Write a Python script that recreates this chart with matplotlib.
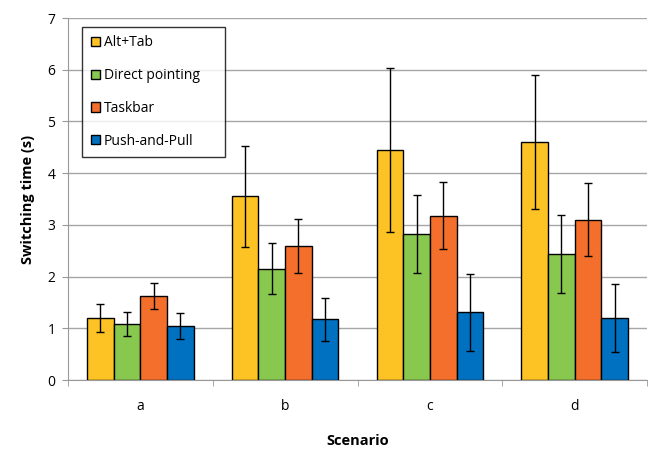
"""Task-switching times per scenario, grouped bars with error bars."""

import matplotlib
matplotlib.use("Agg")
import matplotlib.pyplot as plt
import numpy as np

scenarios = ["a", "b", "c", "d"]
techniques = ["Alt+Tab", "Direct pointing", "Taskbar", "Push-and-Pull"]

alt_tab = [1.20, 3.55, 4.45, 4.60]
alt_tab_err = [0.27, 0.98, 1.58, 1.30]
direct = [1.09, 2.15, 2.82, 2.44]
direct_err = [0.23, 0.49, 0.76, 0.76]
taskbar = [1.62, 2.59, 3.18, 3.10]
taskbar_err = [0.25, 0.52, 0.65, 0.70]
push_pull = [1.05, 1.17, 1.31, 1.20]
push_pull_err = [0.25, 0.42, 0.74, 0.66]

colors = ["#FDC325", "#88C84E", "#F46F2B", "#0070C0"]

plt.rcParams["font.family"] = ["Open Sans", "DejaVu Sans"]

fig = plt.figure(figsize=(6.48, 4.49), dpi=100)
ax = fig.add_axes([68 / 648, 69 / 449, 579 / 648, 362 / 449])

x = np.arange(len(scenarios))
width = 0.184
series = [(alt_tab, alt_tab_err), (direct, direct_err),
          (taskbar, taskbar_err), (push_pull, push_pull_err)]
for i, (vals, errs) in enumerate(series):
    offset = (i - 1.5) * width
    ax.bar(x + offset, vals, width, color=colors[i], edgecolor="black",
           linewidth=1, label=techniques[i], zorder=2,
           yerr=errs, capsize=3,
           error_kw={"elinewidth": 1, "capthick": 1, "ecolor": "black"})

ax.set_xlim(-0.5, len(scenarios) - 0.5)
ax.set_ylim(0, 7)
ax.set_yticks(range(8))
ax.set_xticks(x)
ax.set_xticklabels(scenarios)
ax.set_xticks(np.arange(-0.5, len(scenarios)), minor=True)
ax.tick_params(axis="x", which="major", length=0, labelsize=10, pad=14)
ax.tick_params(axis="x", which="minor", length=4, color="#999999", direction="out")
ax.tick_params(axis="y", length=4, color="#999999", labelsize=10, pad=5)
ax.yaxis.grid(True, color="#A6A6A6", linewidth=1, zorder=0)
ax.set_axisbelow(True)
for side in ["top", "right"]:
    ax.spines[side].set_visible(False)
ax.spines["left"].set_color("#999999")
ax.spines["bottom"].set_color("#999999")

ax.set_ylabel("Switching time (s)", fontweight="bold", fontsize=10.5, labelpad=9)
ax.set_xlabel("Scenario", fontweight="bold", fontsize=10.5, labelpad=14)

# expand mode stretches the frame to the requested width
leg = ax.legend(loc="upper left", bbox_to_anchor=(0.024, 0.0, 0.248, 0.976),
                mode="expand", borderaxespad=0,
                fontsize=10, frameon=True, fancybox=False, edgecolor="black",
                handlelength=0.65, handleheight=0.65, handletextpad=0.3,
                labelspacing=1.28, borderpad=0.62)
leg.get_frame().set_linewidth(1)
for h in leg.legend_handles:
    h.set_linewidth(1)

fig.savefig("out.png", dpi=100)
